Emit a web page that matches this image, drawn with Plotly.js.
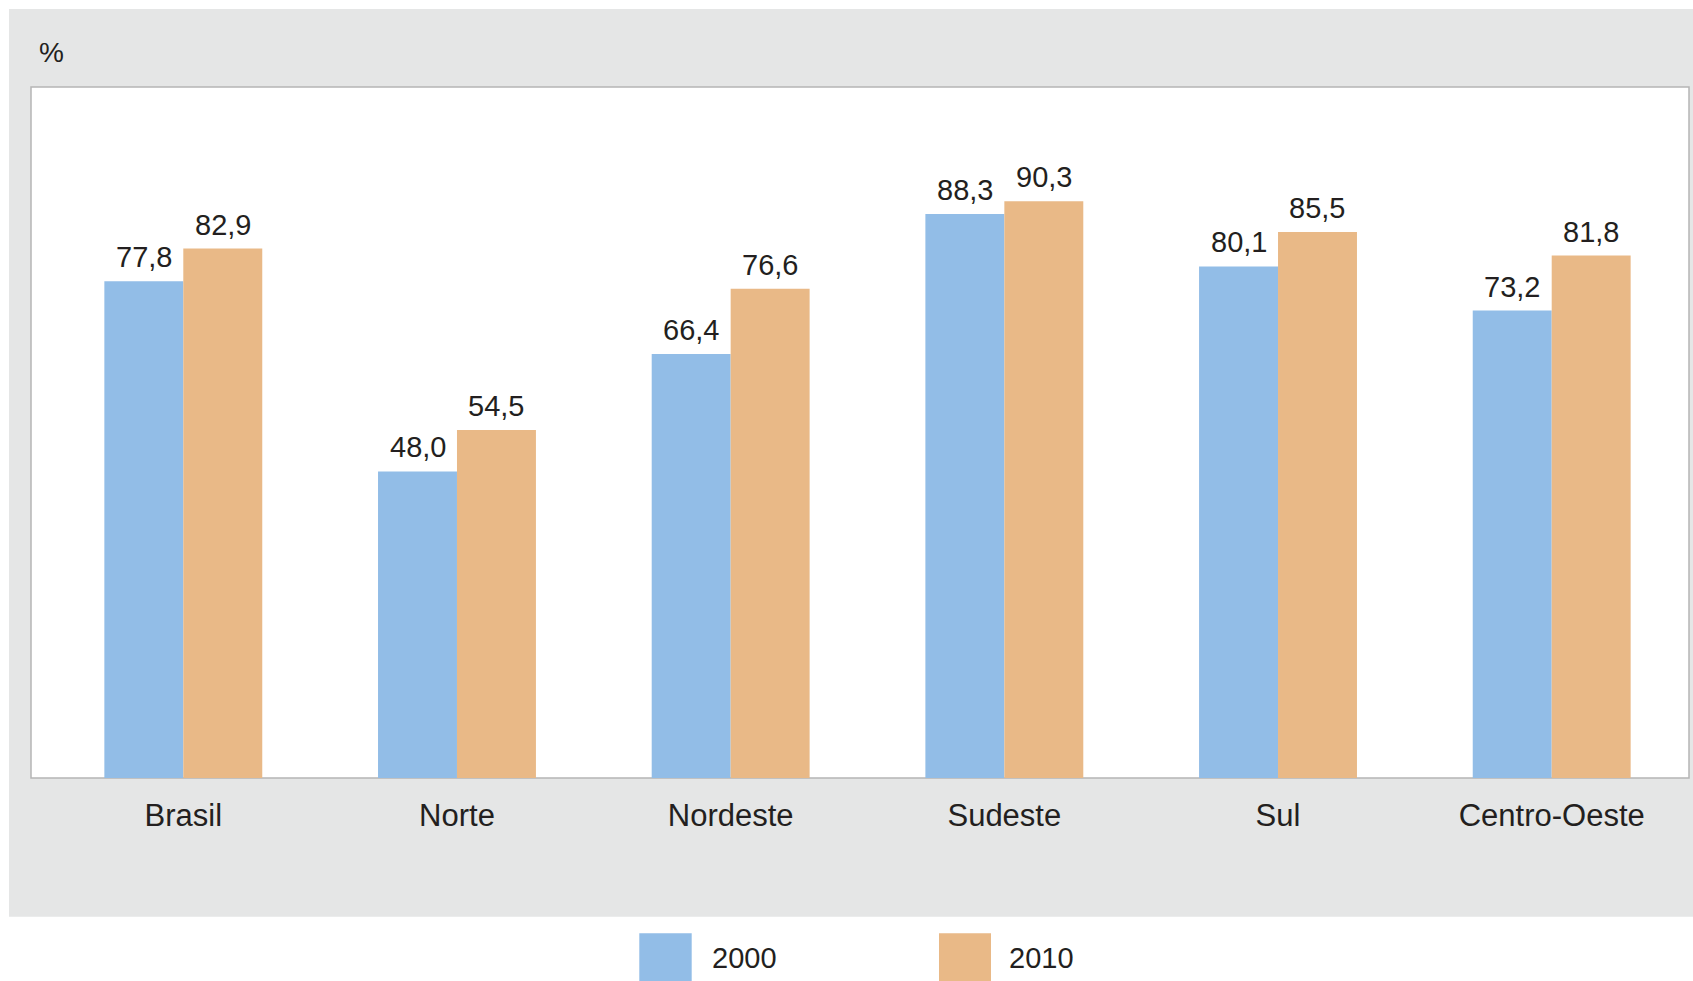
<!DOCTYPE html>
<html>
<head>
<meta charset="utf-8">
<script src="https://cdn.plot.ly/plotly-3.0.1.min.js"></script>
<style>html,body{margin:0;padding:0;background:#fff;}#chart{width:1693px;height:981px;}</style>
</head>
<body>
<div id="chart"></div>
<script>
const categories = ["Brasil", "Norte", "Nordeste", "Sudeste", "Sul", "Centro-Oeste"];
const values2000 = [77.8, 48.0, 66.4, 88.3, 80.1, 73.2];
const values2010 = [82.9, 54.5, 76.6, 90.3, 85.5, 81.8];
const seriesNames = ["2000", "2010"];
const unitLabel = "%";

const FONT = "Liberation Sans, Arial, Helvetica, sans-serif";
const TXT = "#231f20";
const BLUE = "#92bde7";
const ORANGE = "#e9b987";
const PANEL = "#e5e6e6";

const W = 1693, H = 981;
const L = 31, R = 4, T = 87, B = 203;
const pw = W - L - R, ph = H - T - B;
const px = v => (v - L) / pw;
const py = v => (H - B - v) / ph;

const BARGAP = 0.423;
const halfBar = (1 - BARGAP) / 4;

const common = {
  type: "bar",
  x: categories,
  hoverinfo: "skip"
};
const traces = [
  Object.assign({}, common, {name: seriesNames[0], y: values2000, marker: {color: BLUE, line: {width: 0}}}),
  Object.assign({}, common, {name: seriesNames[1], y: values2010, marker: {color: ORANGE, line: {width: 0}}})
];

const fmt = v => v.toFixed(1).replace(".", ",");
const valueAnnotations = [];
[values2000, values2010].forEach((vals, s) => {
  vals.forEach((v, i) => {
    valueAnnotations.push({
      text: fmt(v), xref: "x", yref: "y",
      x: i + (s === 0 ? -halfBar : halfBar), y: v,
      xanchor: "center", yanchor: "bottom", yshift: 6,
      showarrow: false,
      font: {family: FONT, size: 29, color: TXT}
    });
  });
});

const layout = {
  width: W, height: H,
  margin: {l: L, r: R, t: T, b: B, pad: 0},
  paper_bgcolor: "#ffffff",
  plot_bgcolor: "rgba(0,0,0,0)",
  separators: ",.",
  showlegend: false,
  barmode: "group",
  bargap: BARGAP,
  bargroupgap: 0,
  font: {family: FONT, color: TXT},
  xaxis: {
    type: "category",
    range: [-0.5565, 5.5017],
    showgrid: false, zeroline: false, showline: false,
    ticks: "", ticklen: 0,
    ticklabelstandoff: 16,
    tickfont: {family: FONT, size: 31, color: TXT},
    fixedrange: true
  },
  yaxis: {
    range: [0, 108.2],
    showgrid: false, zeroline: false, showline: false,
    showticklabels: false, ticks: "",
    fixedrange: true
  },
  shapes: [
    {type: "rect", xref: "paper", yref: "paper", layer: "below",
     x0: px(9), x1: px(1700), y0: py(916.7), y1: py(9),
     fillcolor: PANEL, line: {width: 0}},
    {type: "rect", xref: "paper", yref: "paper", layer: "below",
     x0: 0, x1: 1, y0: 0, y1: 1,
     fillcolor: "#ffffff", line: {width: 1.5, color: "#b5b5b5"}},
    {type: "rect", xref: "paper", yref: "paper", layer: "above",
     x0: px(639.3), x1: px(691.7), y0: py(1000), y1: py(933.3),
     fillcolor: BLUE, line: {width: 0}},
    {type: "rect", xref: "paper", yref: "paper", layer: "above",
     x0: px(939), x1: px(991), y0: py(1000), y1: py(933.3),
     fillcolor: ORANGE, line: {width: 0}}
  ],
  annotations: valueAnnotations.concat([
    {text: unitLabel, xref: "paper", yref: "paper", x: px(51.7), y: py(52.5),
     xanchor: "center", yanchor: "middle", showarrow: false,
     font: {family: FONT, size: 28, color: TXT}},
    {text: seriesNames[0], xref: "paper", yref: "paper", x: px(710), y: py(957.5),
     xanchor: "left", yanchor: "middle", showarrow: false,
     font: {family: FONT, size: 29, color: TXT}},
    {text: seriesNames[1], xref: "paper", yref: "paper", x: px(1007.3), y: py(957.5),
     xanchor: "left", yanchor: "middle", showarrow: false,
     font: {family: FONT, size: 29, color: TXT}}
  ])
};

Plotly.newPlot("chart", traces, layout, {staticPlot: true, displayModeBar: false});
</script>
</body>
</html>
